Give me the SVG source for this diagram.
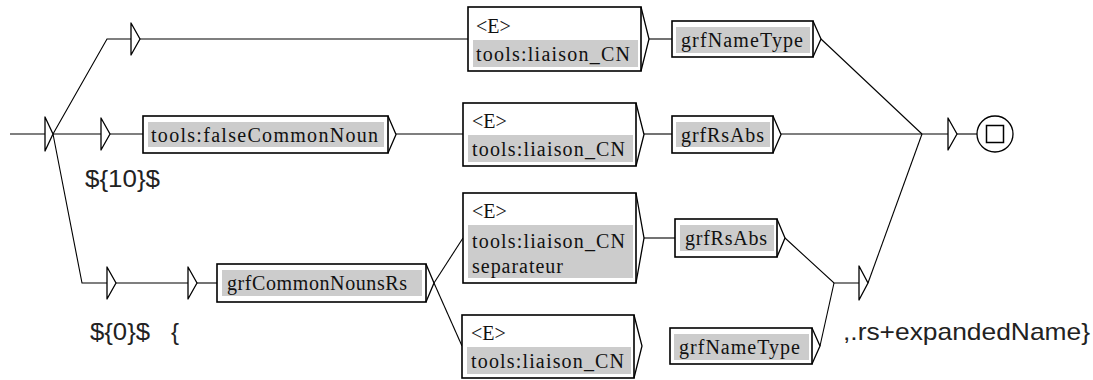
<svg xmlns="http://www.w3.org/2000/svg" width="1093" height="380" viewBox="0 0 1093 380">
<style>
.ln{fill:none;stroke:#000;stroke-width:1.1}
.st{fill:#fff;stroke:#000;stroke-width:1.3;stroke-linejoin:round}
.bx{fill:#fff;stroke:#000;stroke-width:1.6}
.ar{fill:none;stroke:#000;stroke-width:1.3}
.gr{fill:#cccccc}
.tx{font-family:"Liberation Serif","Times New Roman",serif;font-size:20px;fill:#111}
.lb{font-family:"Liberation Sans",Arial,sans-serif;font-size:24px;fill:#222}
</style>
<rect width="1093" height="380" fill="#fff"/>
<g id="connectors">
<path class="ln" d="M10,134 H45"/>
<path class="ln" d="M53,134 L107,39 H131"/>
<path class="ln" d="M53,134 H101"/>
<path class="ln" d="M53,134 L82,283 H107"/>
<path class="ln" d="M140,39 H468"/>
<path class="ln" d="M649,39 H672"/>
<path class="ln" d="M821,39 L922,134"/>
<path class="ln" d="M110,134 H143"/>
<path class="ln" d="M396,134 H463"/>
<path class="ln" d="M644,134 H672"/>
<path class="ln" d="M781,134 H948"/>
<path class="ln" d="M957,134 H977"/>
<path class="ln" d="M116,283 H188"/>
<path class="ln" d="M197,283 H217"/>
<path class="ln" d="M434,283 L463,238"/>
<path class="ln" d="M434,283 L462,346"/>
<path class="ln" d="M644,238 H675"/>
<path class="ln" d="M785,238 L834,283 H859"/>
<path class="ln" d="M820,346 L834,283"/>
<path class="ln" d="M868,283 L922,134"/>
</g>
<g id="initial"><polygon class="st" points="45,117 53,134 45,151"/></g>
<g id="state_top"><polygon class="st" points="131,23 140,39 131,55"/></g>
<g id="state_row2"><polygon class="st" points="101,118 110,134 101,150"/></g>
<g id="state_b1"><polygon class="st" points="107,267 116,283 107,299"/></g>
<g id="state_b2"><polygon class="st" points="188,267 197,283 188,299"/></g>
<g id="state_r"><polygon class="st" points="948,118 957,134 948,150"/></g>
<g id="state_br"><polygon class="st" points="859,266 868,283 859,300"/></g>
<g id="final">
<circle cx="995" cy="134" r="18" fill="#fff" stroke="#000" stroke-width="1.3"/>
<rect x="986.5" y="125.5" width="17" height="17" fill="none" stroke="#000" stroke-width="1.5"/>
</g>
<g id="box1">
<rect class="bx" x="468" y="7" width="173" height="64"/>
<rect class="gr" x="473" y="40" width="165" height="27"/>
<polyline class="ar" points="641,7 649,39 641,71"/>
<text class="tx" x="476" y="33">&lt;E&gt;</text>
<text class="tx" x="476" y="61" textLength="154" lengthAdjust="spacing">tools:liaison_CN</text>
</g>
<g id="box2">
<rect class="bx" x="463" y="103" width="173" height="63"/>
<rect class="gr" x="468" y="135" width="165" height="27"/>
<polyline class="ar" points="636,103 644,134.5 636,166"/>
<text class="tx" x="472" y="128">&lt;E&gt;</text>
<text class="tx" x="472" y="156" textLength="153" lengthAdjust="spacing">tools:liaison_CN</text>
</g>
<g id="box3">
<rect class="bx" x="463" y="193" width="173" height="90"/>
<rect class="gr" x="468" y="225" width="165" height="53"/>
<polyline class="ar" points="636,193 644,238 636,283"/>
<text class="tx" x="472" y="218">&lt;E&gt;</text>
<text class="tx" x="472" y="248" textLength="153" lengthAdjust="spacing">tools:liaison_CN</text>
<text class="tx" x="472" y="273" textLength="91" lengthAdjust="spacing">separateur</text>
</g>
<g id="box4">
<rect class="bx" x="462" y="315" width="172" height="63"/>
<rect class="gr" x="467" y="347" width="164" height="27"/>
<polyline class="ar" points="634,315 642,346 634,378"/>
<text class="tx" x="471" y="340">&lt;E&gt;</text>
<text class="tx" x="471" y="368" textLength="153" lengthAdjust="spacing">tools:liaison_CN</text>
</g>
<g id="falseCommonNoun">
<rect class="bx" x="143" y="116" width="245" height="37"/>
<rect class="gr" x="148" y="122" width="236" height="25"/>
<polyline class="ar" points="388,116 396,134.5 388,153"/>
<text class="tx" x="151" y="142" textLength="227" lengthAdjust="spacing">tools:falseCommonNoun</text>
</g>
<g id="grfNameType1">
<rect class="bx" x="672" y="21" width="141" height="36"/>
<rect class="gr" x="676" y="27" width="134" height="26"/>
<polyline class="ar" points="813,21 821,39 813,57"/>
<text class="tx" x="681" y="47" textLength="122" lengthAdjust="spacing">grfNameType</text>
</g>
<g id="grfRsAbs2">
<rect class="bx" x="672" y="116" width="101" height="37"/>
<rect class="gr" x="676" y="122" width="94" height="25"/>
<polyline class="ar" points="773,116 781,134.5 773,153"/>
<text class="tx" x="681" y="142" textLength="83" lengthAdjust="spacing">grfRsAbs</text>
</g>
<g id="grfCommonNounsRs">
<rect class="bx" x="217" y="264" width="209" height="38"/>
<rect class="gr" x="222" y="270" width="200" height="26"/>
<polyline class="ar" points="426,264 434,283 426,302"/>
<text class="tx" x="227" y="290" textLength="180" lengthAdjust="spacing">grfCommonNounsRs</text>
</g>
<g id="grfRsAbs3">
<rect class="bx" x="675" y="219" width="102" height="38"/>
<rect class="gr" x="680" y="225" width="94" height="26"/>
<polyline class="ar" points="777,219 785,238 777,257"/>
<text class="tx" x="685" y="245" textLength="82" lengthAdjust="spacing">grfRsAbs</text>
</g>
<g id="grfNameType4">
<rect class="bx" x="670" y="328" width="142" height="36"/>
<rect class="gr" x="674" y="334" width="135" height="26"/>
<polyline class="ar" points="812,328 820,346 812,364"/>
<text class="tx" x="679" y="354" textLength="121" lengthAdjust="spacing">grfNameType</text>
</g>
<g id="labels">
<text class="lb" x="85" y="187" textLength="75" lengthAdjust="spacingAndGlyphs">${10}$</text>
<text class="lb" x="90" y="340" textLength="60" lengthAdjust="spacingAndGlyphs">${0}$</text>
<text class="lb" x="171" y="340">{</text>
<text class="lb" x="843" y="340" textLength="247" lengthAdjust="spacingAndGlyphs">,.rs+expandedName}</text>
</g>
</svg>
